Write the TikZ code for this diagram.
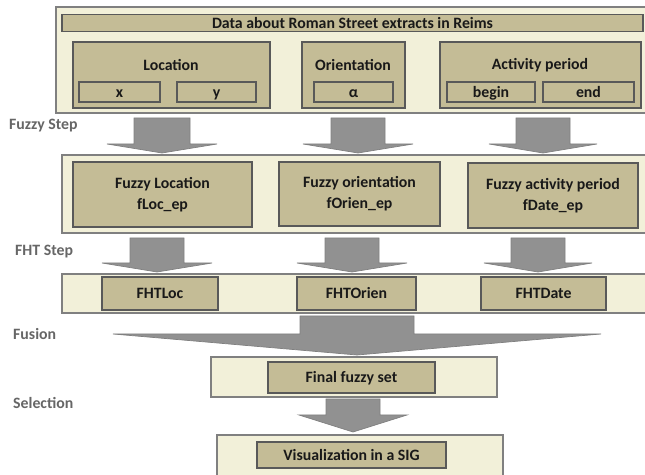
\documentclass[tikz,border=0pt]{standalone}
\usepackage{fontspec}
\setmainfont{Carlito}
\usepackage{tikz}
\usetikzlibrary{positioning, calc}

\definecolor{panelfill}{HTML}{F2F0D9}
\definecolor{itemfill}{HTML}{C4BC96}
\definecolor{flowfill}{HTML}{919191}
\definecolor{stepgray}{HTML}{666666}

% block arrow: centre x, top y, wing y, tip y, half shaft, half wing
\newcommand{\flowdown}[6]{%
    \draw[flow] ({#1-#5},#2) -- ({#1+#5},#2) -- ({#1+#5},#3) -- ({#1+#6},#3)
        -- (#1,#4) -- ({#1-#6},#3) -- ({#1-#5},#3) -- cycle;}

\begin{document}
\begin{tikzpicture}[x=0.02cm, y=-0.02cm,
    boxat/.style n args={4}{minimum width={(#3-#1)*0.02cm}, minimum height={(#4-#2)*0.02cm},
        at={({(#1+#3)/2},{(#2+#4)/2})}, inner sep=0pt, outer sep=0pt},
    panel/.style={draw=black!50, fill=panelfill, line width=0.8pt},
    item/.style={draw=black!65, fill=itemfill, line width=0.6pt, text=black!90,
        font=\bfseries\fontsize{9}{12}\selectfont, align=center},
    cell/.style={item, text height=1.6ex, text depth=0.4ex},
    itemtext/.style={text=black!90, font=\bfseries\fontsize{9}{12}\selectfont},
    steplabel/.style={text=stepgray, font=\bfseries\fontsize{9}{10}\selectfont, anchor=west},
    flow/.style={fill=flowfill, draw=black!50, line width=0.4pt}]
    \useasboundingbox (0,0) rectangle (645,475);

    % data
    \node[panel, boxat={56}{7}{650}{113}] (data) {};
    \node[cell, boxat={62}{15}{643}{31}] (title) {Data about Roman Street extracts in Reims};
    \node[item, boxat={73}{42}{270}{108}] (loc) {};
    \node[itemtext] (loctext) at (171,65) {Location};
    \node[cell, boxat={79}{82}{160}{102}] (x) {x};
    \node[cell, boxat={177}{82}{256}{102}] (y) {y};
    \node[item, boxat={302}{42}{405}{108}] (orien) {};
    \node[itemtext] (orientext) at (353,65) {Orientation};
    \node[cell, boxat={314}{82}{393}{102}] (alpha) {α};
    \node[item, boxat={440}{42}{641}{108}] (act) {};
    \node[itemtext] (acttext) at (540,65) {Activity period};
    \node[cell, boxat={447}{82}{535}{102}] (begin) {begin};
    \node[cell, boxat={543}{82}{634}{102}] (end) {end};

    \node[steplabel] (fuzzystep) at (3,126) {Fuzzy Step};
    \flowdown{162}{118}{144}{153}{28}{55}
    \flowdown{358}{118}{144}{153}{27}{55}
    \flowdown{543}{118}{144}{153}{27}{54}

    % fuzzy sets
    \node[panel, boxat={62}{155}{650}{233}] (fuzzy) {};
    \node[item, boxat={73}{162}{252}{227}] (floc) {Fuzzy Location\\fLoc\_ep};
    \node[item, boxat={279}{162}{440}{226}] (forien) {Fuzzy orientation\\fOrien\_ep};
    \node[item, boxat={468}{163}{638}{228}] (fdate) {Fuzzy activity period\\fDate\_ep};

    \node[steplabel] (fhtstep) at (9,252) {FHT Step};
    \flowdown{157}{238}{263}{272}{27}{55}
    \flowdown{352}{238}{263}{272}{27}{55}
    \flowdown{538}{238}{263}{272}{27}{54}

    % FHT
    \node[panel, boxat={62}{274}{650}{313}] (fht) {};
    \node[cell, boxat={102}{277}{218}{310}] (fhtloc) {FHTLoc};
    \node[cell, boxat={297}{277}{416}{310}] (fhtorien) {FHTOrien};
    \node[cell, boxat={481}{277}{606}{310}] (fhtdate) {FHTDate};

    \node[steplabel] (fusion) at (7,334) {Fusion};
    \flowdown{357}{316}{334}{355}{57}{244}

    \node[panel, boxat={211}{357}{497}{397}] (final) {};
    \node[cell, boxat={268}{362}{435}{393}] (finalset) {Final fuzzy set};

    \node[steplabel] (selection) at (7,403) {Selection};
    \flowdown{353}{399}{415}{432}{27}{54}

    \node[panel, boxat={217}{435}{503}{480}] (visu) {};
    \node[cell, boxat={257}{442}{446}{468}] (sig) {Visualization in a SIG};
\end{tikzpicture}
\end{document}
